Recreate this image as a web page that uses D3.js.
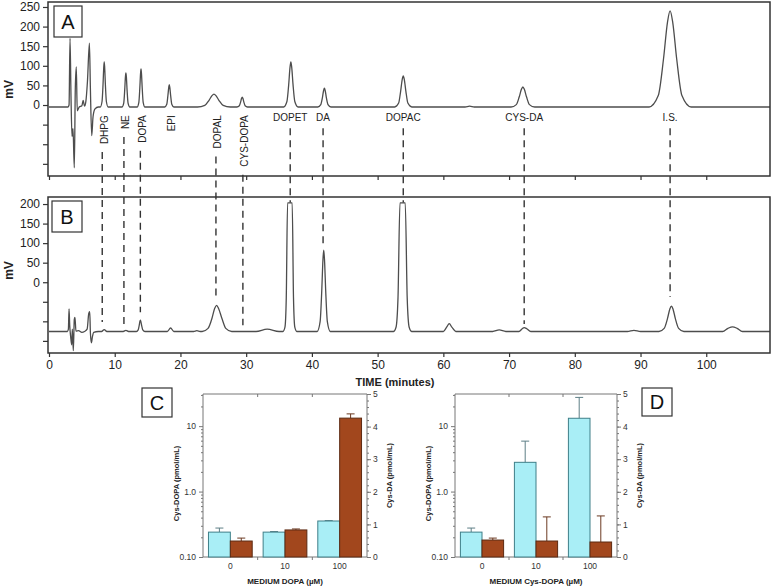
<!DOCTYPE html>
<html>
<head>
<meta charset="utf-8">
<script src="https://cdn.jsdelivr.net/npm/d3@7"></script>
<style>
  body { margin: 0; background: #fff; }
  svg { display: block; font-family: "Liberation Sans", Arial, sans-serif; }
</style>
</head>
<body>
<svg id="fig" width="773" height="586"></svg>
<script>
// ---- data ----
// chromatogram A (time in minutes, mV)
const traceA = [
  [0,-5],[2.9,-5],[3.05,0],[3.2,170],[3.35,20],[3.5,-80],[3.65,-60],[3.85,-160],[4.0,40],[4.15,97],[4.3,-15],[4.6,-5],
  [5.0,-2],[5.2,12],[5.4,-3],[5.6,8],[5.85,60],[6.15,158],[6.3,40],[6.5,-78],[6.7,-30],[7.0,-10],[7.5,-5],
  [7.8,-5],[8.07,9],[8.22,52],[8.33,96],[8.4,110],[8.47,96],[8.58,52],[8.73,9],[9.0,-5],
  [11.1,-5],[11.37,5],[11.52,38],[11.63,72],[11.7,82],[11.77,72],[11.88,38],[12.03,5],[12.3,-5],
  [13.4,-5],[13.67,7],[13.82,44],[13.93,80],[14.0,92],[14.07,80],[14.18,44],[14.33,7],[14.6,-5],
  [17.6,-5],[17.92,2],[18.09,24],[18.22,45],[18.3,52],[18.38,45],[18.51,24],[18.68,2],[19.0,-5],
  [22.6,-5],[23.7,-1],[24.35,12],[24.8,24],[25.1,28],[25.4,24],[25.85,12],[26.5,-1],[27.6,-5],
  [28.6,-5],[28.96,-2],[29.16,8],[29.3,17],[29.4,20],[29.5,17],[29.64,8],[29.84,-2],[30.2,-5],
  [35.7,-5],[36.2,9],[36.47,52],[36.67,96],[36.8,110],[36.93,96],[37.13,52],[37.4,9],[37.9,-5],
  [40.9,-5],[41.35,1],[41.6,19],[41.78,37],[41.9,43],[42.02,37],[42.2,19],[42.45,1],[42.9,-5],
  [52.6,-5],[53.2,5],[53.5,35],[53.74,65],[53.9,74],[54.06,65],[54.3,35],[54.6,5],[55.2,-5],
  [63.3,-5],[64.0,-3],[64.7,-5],
  [70.3,-5],[71.1,1],[71.55,21],[71.88,40],[72.1,46],[72.32,40],[72.65,21],[73.1,1],[73.9,-5],
  [91.3,-5],[92.7,24],[93.5,118],[94.1,211],[94.5,240],[94.9,211],[95.5,118],[96.3,24],[97.7,-5],
  [109.7,-5]
];

// chromatogram B
const traceB = [
  [0,-126],[2.8,-126],[2.95,-120],[3.05,-68],[3.15,-110],[3.3,-140],[3.45,-160],[3.55,-120],[3.7,-175],[3.85,-95],
  [3.95,-90],[4.1,-125],[4.5,-124],[5.0,-128],[5.4,-126],[5.8,-120],[6.05,-80],[6.2,-75],[6.3,-130],[6.45,-155],
  [6.6,-140],[6.8,-128],[7.5,-126],
  [8.0,-126],[8.4,-121],[8.8,-126],[11.3,-126],[11.7,-123],[12.1,-126],
  [13.3,-126],[13.57,-122],[13.72,-111],[13.83,-100],[13.9,-97],[13.97,-100],[14.1,-111],[14.27,-122],[14.6,-126],
  [18.0,-126],[18.5,-117],[19.0,-126],[22.0,-126],[22.5,-124],[23.0,-126],
  [23.3,-126],[24.2,-118],[24.8,-92],[25.2,-67],[25.5,-59],[25.8,-67],[26.3,-92],[26.9,-118],[27.8,-126],
  [31.5,-126],[33.2,-120],[35.0,-126],
  [35.6,-126],[35.9,-115],[36.1,-40],[36.3,203],[37.0,203],[37.2,-40],[37.4,-115],[37.7,-126],
  [40.8,-126],[41.25,-101],[41.5,-22],[41.68,57],[41.8,82],[41.92,57],[42.1,-22],[42.35,-101],[42.8,-126],
  [52.4,-126],[52.8,-115],[53.1,-40],[53.4,203],[54.2,203],[54.5,-40],[54.8,-115],[55.2,-126],
  [60.0,-126],[60.5,-115],[60.9,-106],[61.3,-115],[61.9,-126],
  [67.5,-126],[68.5,-122],[69.5,-126],
  [71.5,-126],[72.0,-119],[72.3,-116],[72.7,-119],[73.3,-126],
  [88.0,-126],[89.0,-123],[90.0,-126],
  [92.8,-126],[93.6,-118],[94.1,-93],[94.45,-69],[94.7,-61],[94.95,-69],[95.3,-93],[95.8,-118],[96.6,-126],
  [102.5,-126],[103.3,-118],[104.0,-114],[104.7,-118],[105.5,-126],[109.7,-126]
];

// peak labels and the dashed guide lines (end value in panel B, mV)
const peakNames = ["DHPG","NE","DOPA","EPI","DOPAL","CYS-DOPA","DOPET","DA","DOPAC","CYS-DA","I.S."];
const peakTimes = [8.1, 11.4, 13.9, 18.3, 25.4, 29.5, 36.7, 41.7, 53.9, 72.3, 94.5];
const peakRotated = [true, true, true, true, true, true, false, false, false, false, false];
const dashEndB = [-102, -110, -77, null, -38, -110, 204, 87, 204, -107, -38];

const timeTicks = [0,10,20,30,40,50,60,70,80,90,100];
const mvTicksA = [-150,-100,-50,0,50,100,150,200,250];
const mvTicksB = [-150,-100,-50,0,50,100,150,200];

// bar panels
const groups = ["0","10","100"];
const cCysDopa = [0.24, 0.24, 0.355];
const cCysDopaErr = [0.037, 0.005, 0.005];
const cCysDa = [0.49, 0.83, 4.26];
const cCysDaErr = [0.09, 0.03, 0.13];
const dCysDopa = [0.24, 2.8, 13.2];
const dCysDopaErr = [0.037, 3.1, 14.3];
const dCysDa = [0.52, 0.49, 0.46];
const dCysDaErr = [0.06, 0.74, 0.8];

const svg = d3.select("#fig");
svg.append("rect").attr("width", 773).attr("height", 586).attr("fill", "#fff");

// ---- chromatograms ----
const x = d3.scaleLinear().domain([0, 109.7]).range([49, 770]);
const yA = d3.scaleLinear().domain([-181, 262.7]).range([176, 2]);
const yB = d3.scaleLinear().domain([-181, 218]).range([353, 197]);

const defs = svg.append("defs");
defs.append("clipPath").attr("id", "clipA").append("rect")
  .attr("x", 48).attr("y", 2).attr("width", 722).attr("height", 174);
defs.append("clipPath").attr("id", "clipB").append("rect")
  .attr("x", 48).attr("y", 197).attr("width", 722).attr("height", 156);

function drawTrace(data, y, clip) {
  const line = d3.line().x(d => x(d[0])).y(d => y(d[1])).curve(d3.curveMonotoneX);
  svg.append("path")
    .datum(data)
    .attr("clip-path", "url(#" + clip + ")")
    .attr("d", line)
    .attr("fill", "none")
    .attr("stroke", "#4d4d4d")
    .attr("stroke-width", 1.3);
}

function styleAxis(g, fontSize) {
  g.select(".domain").remove();
  g.selectAll("line").attr("stroke", "#333").attr("stroke-width", 1.2);
  g.selectAll("text").attr("fill", "#222").style("font-size", fontSize + "px")
    .style("font-family", "Liberation Sans, Arial, sans-serif");
}

// axes A
svg.append("g").attr("transform", "translate(48,0)")
  .call(d3.axisLeft(yA).tickValues(mvTicksA).tickSize(5).tickPadding(3).tickFormat(d => d >= 0 ? d : ""))
  .call(g => styleAxis(g, 12));
svg.append("g").attr("transform", "translate(0,176)")
  .call(d3.axisBottom(x).tickValues(timeTicks).tickSize(4).tickFormat(""))
  .call(g => styleAxis(g, 12));

// axes B
svg.append("g").attr("transform", "translate(48,0)")
  .call(d3.axisLeft(yB).tickValues(mvTicksB).tickSize(5).tickPadding(3).tickFormat(d => d >= 0 ? d : ""))
  .call(g => styleAxis(g, 12));
svg.append("g").attr("transform", "translate(0,353)")
  .call(d3.axisBottom(x).tickValues(timeTicks).tickSize(4).tickPadding(3))
  .call(g => styleAxis(g, 12));

drawTrace(traceA, yA, "clipA");
drawTrace(traceB, yB, "clipB");

// frames
[[2, 176], [197, 353]].forEach(([top, bottom]) => {
  svg.append("rect").attr("x", 48).attr("y", top).attr("width", 722).attr("height", bottom - top)
    .attr("fill", "none").attr("stroke", "#333").attr("stroke-width", 1.5);
});

// mV labels
[yA(40), yB(30)].forEach(cy => {
  svg.append("text").attr("transform", `translate(13,${cy}) rotate(-90)`)
    .attr("text-anchor", "middle").style("font-size", "12px").style("font-weight", "bold")
    .attr("fill", "#222").text("mV");
});

svg.append("text").attr("x", 395).attr("y", 386).attr("text-anchor", "middle")
  .style("font-size", "11px").style("font-weight", "bold").attr("fill", "#222")
  .text("TIME (minutes)");

// peak labels + dashed guides
const labelTop = yA(-26);
peakNames.forEach((name, i) => {
  const px = x(peakTimes[i]);
  let dashStart;
  if (peakRotated[i]) {
    const t = svg.append("text")
      .attr("transform", `translate(${px + 5.5},${labelTop}) rotate(-90)`)
      .attr("text-anchor", "end").style("font-size", "10px").attr("fill", "#222").text(name);
    dashStart = labelTop + t.node().getComputedTextLength() + 8;
  } else {
    svg.append("text").attr("x", px).attr("y", yA(-41)).attr("text-anchor", "middle")
      .style("font-size", "10px").attr("fill", "#222").text(name);
    dashStart = yA(-59);
  }
  if (dashEndB[i] !== null) {
    svg.append("line").attr("x1", px).attr("x2", px)
      .attr("y1", dashStart).attr("y2", yB(dashEndB[i]))
      .attr("stroke", "#333").attr("stroke-width", 1.4).attr("stroke-dasharray", "7,5");
  }
});

// panel letter boxes
function letterBox(x0, y0, w, h, letter) {
  svg.append("rect").attr("x", x0).attr("y", y0).attr("width", w).attr("height", h)
    .attr("fill", "#fff").attr("stroke", "#333").attr("stroke-width", 1.2);
  svg.append("text").attr("x", x0 + w / 2).attr("y", y0 + h / 2 + 7).attr("text-anchor", "middle")
    .style("font-size", "20px").attr("fill", "#111").text(letter);
}
letterBox(54, 6, 28, 31, "A");
letterBox(52, 201, 30, 31, "B");
letterBox(142, 388, 30, 29, "C");
letterBox(642, 388, 30, 28, "D");

// ---- bar panels ----
function barPanel(left, right, xLabel, cysDopa, cysDopaErr, cysDa, cysDaErr) {
  const top = 394, bottom = 557;
  const g = svg.append("g");
  const xb = d3.scaleBand().domain(groups).range([left, right]).paddingInner(0.2).paddingOuter(0.1);
  const xs = d3.scaleBand().domain(["dopa", "da"]).range([0, xb.bandwidth()]);
  const yL = d3.scaleLog().domain([0.1, 31]).range([bottom, top]);
  const yR = d3.scaleLinear().domain([0, 5]).range([bottom, top]);

  const axisColor = "#777";
  // frame
  g.append("line").attr("x1", left).attr("x2", right).attr("y1", top).attr("y2", top).attr("stroke", axisColor);
  g.append("line").attr("x1", left).attr("x2", right).attr("y1", bottom).attr("y2", bottom).attr("stroke", axisColor);
  g.append("line").attr("x1", left).attr("x2", left).attr("y1", top).attr("y2", bottom).attr("stroke", axisColor);
  g.append("line").attr("x1", right).attr("x2", right).attr("y1", top).attr("y2", bottom).attr("stroke", axisColor);

  // left log axis
  const minorL = [0.2,0.3,0.4,0.5,0.6,0.7,0.8,0.9,2,3,4,5,6,7,8,9,20,30];
  g.append("g").attr("transform", `translate(${left},0)`)
    .call(d3.axisLeft(yL).tickValues([0.1, 1, 10]).tickSize(4).tickPadding(3)
      .tickFormat(d => d === 0.1 ? "0.10" : d === 1 ? "1.0" : "10"))
    .call(a => {
      a.select(".domain").remove();
      a.selectAll("line").attr("stroke", axisColor);
      a.selectAll("text").style("font-size", "8.5px").attr("fill", "#333");
    });
  g.append("g").attr("transform", `translate(${left},0)`)
    .call(d3.axisLeft(yL).tickValues(minorL).tickSize(2).tickFormat(""))
    .call(a => { a.select(".domain").remove(); a.selectAll("line").attr("stroke", axisColor); });

  // right linear axis
  g.append("g").attr("transform", `translate(${right},0)`)
    .call(d3.axisRight(yR).tickValues([0,1,2,3,4,5]).tickSize(4).tickPadding(2).tickFormat(d3.format("d")))
    .call(a => {
      a.select(".domain").remove();
      a.selectAll("line").attr("stroke", axisColor);
      a.selectAll("text").style("font-size", "8.5px").attr("fill", "#333");
    });
  g.append("g").attr("transform", `translate(${right},0)`)
    .call(d3.axisRight(yR).tickValues(d3.range(0, 5.01, 0.2)).tickSize(2).tickFormat(""))
    .call(a => { a.select(".domain").remove(); a.selectAll("line").attr("stroke", axisColor); });

  // category boundary ticks and labels
  const bounds = groups.slice(1).map(c => xb(c) - xb.step() * xb.paddingInner() / 2);
  bounds.forEach(bx => {
    g.append("line").attr("x1", bx).attr("x2", bx).attr("y1", bottom).attr("y2", bottom + 3).attr("stroke", axisColor);
    g.append("line").attr("x1", bx).attr("x2", bx).attr("y1", top).attr("y2", top + 3).attr("stroke", axisColor);
  });
  groups.forEach(c => {
    g.append("text").attr("x", xb(c) + xb.bandwidth() / 2).attr("y", bottom + 12).attr("text-anchor", "middle")
      .style("font-size", "8.5px").attr("fill", "#333").text(c);
  });

  // bars
  const rows = groups.map((c, i) => ({ c, dopa: cysDopa[i], dopaErr: cysDopaErr[i], da: cysDa[i], daErr: cysDaErr[i] }));
  rows.forEach(r => {
    const xd = xb(r.c) + xs("dopa"), xa = xb(r.c) + xs("da"), bw = xs.bandwidth();
    // error whiskers (upper only)
    const whisker = (cx, y0, y1, color) => {
      g.append("line").attr("x1", cx).attr("x2", cx).attr("y1", y0).attr("y2", y1).attr("stroke", color).attr("stroke-width", 1);
      g.append("line").attr("x1", cx - 4).attr("x2", cx + 4).attr("y1", y1).attr("y2", y1).attr("stroke", color).attr("stroke-width", 1);
    };
    whisker(xd + bw / 2, yL(r.dopa), yL(r.dopa + r.dopaErr), "#5d7f86");
    whisker(xa + bw / 2, yR(r.da), yR(r.da + r.daErr), "#6b3a22");
    g.append("rect").attr("x", xd).attr("y", yL(r.dopa)).attr("width", bw).attr("height", bottom - yL(r.dopa))
      .attr("fill", "#a9eef6").attr("stroke", "#3f7f88").attr("stroke-width", 1);
    g.append("rect").attr("x", xa).attr("y", yR(r.da)).attr("width", bw).attr("height", bottom - yR(r.da))
      .attr("fill", "#a2471d").attr("stroke", "#5c2a12").attr("stroke-width", 1);
  });

  // axis titles
  const midY = (top + bottom) / 2;
  g.append("text").attr("transform", `translate(${left - 24},${midY + 8}) rotate(-90)`).attr("text-anchor", "middle")
    .style("font-size", "7.5px").style("font-weight", "bold").attr("fill", "#222").text("Cys-DOPA (pmol/mL)");
  g.append("text").attr("transform", `translate(${right + 25},${midY}) rotate(-90)`).attr("text-anchor", "middle")
    .style("font-size", "7.5px").style("font-weight", "bold").attr("fill", "#222").text("Cys-DA (pmol/mL)");
  g.append("text").attr("x", (left + right) / 2).attr("y", bottom + 27).attr("text-anchor", "middle")
    .style("font-size", "8px").style("font-weight", "bold").attr("fill", "#222").text(xLabel);
}

barPanel(203, 367, "MEDIUM DOPA (\u00b5M)", cCysDopa, cCysDopaErr, cCysDa, cCysDaErr);
barPanel(455, 617, "MEDIUM Cys-DOPA (\u00b5M)", dCysDopa, dCysDopaErr, dCysDa, dCysDaErr);
</script>
</body>
</html>
